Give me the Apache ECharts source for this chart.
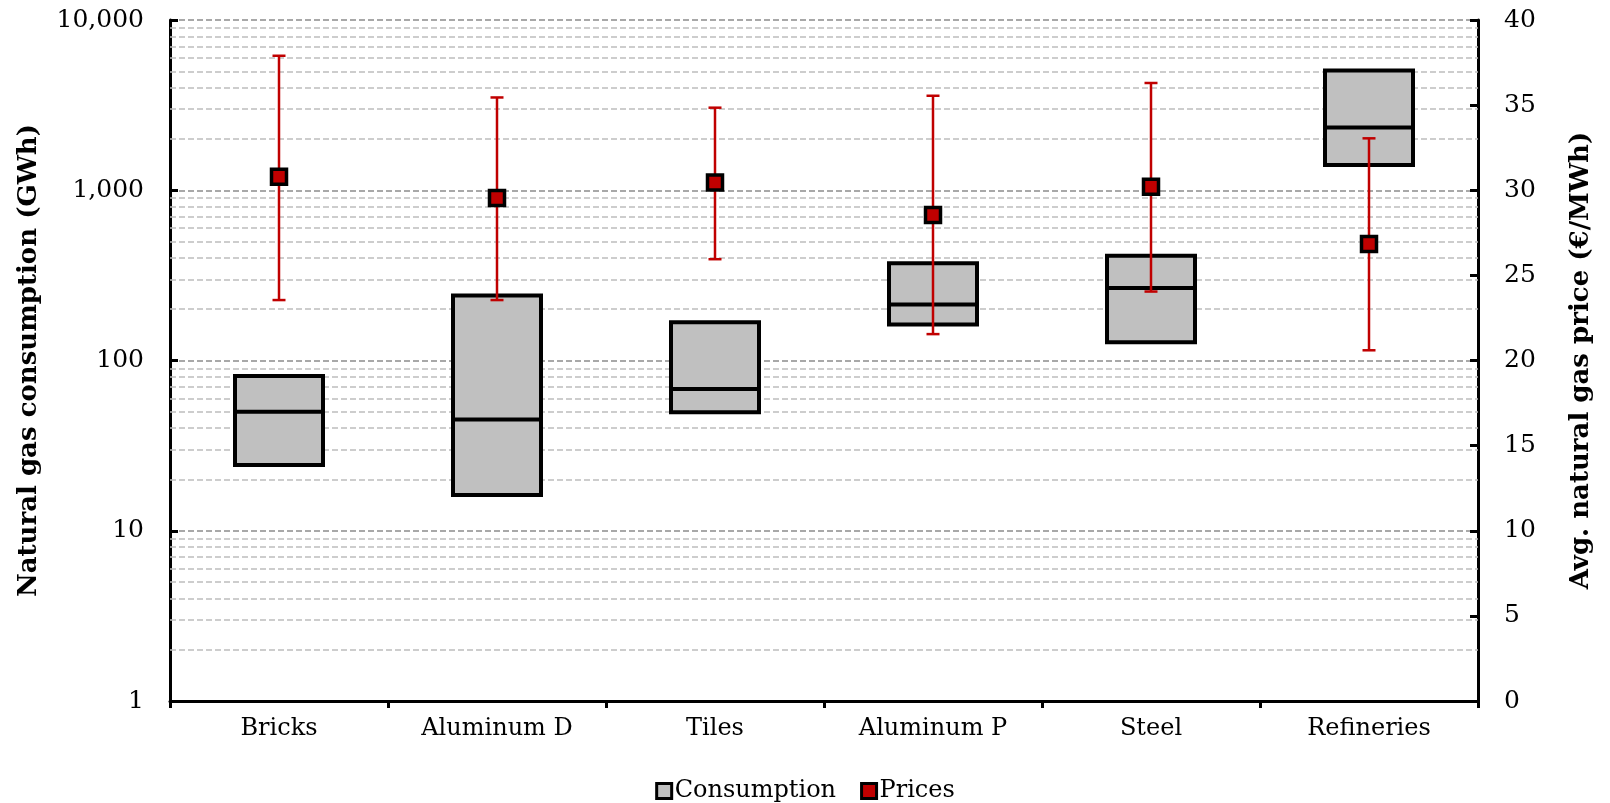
<!DOCTYPE html>
<html>
<head>
<meta charset="utf-8">
<script src="https://cdn.jsdelivr.net/npm/echarts@6/dist/echarts.min.js"></script>
<style>html,body{margin:0;padding:0;background:#fff;}#c{width:1610px;height:803px;}</style>
</head>
<body>
<div id="c"></div>
<script>
// ---- data ----
const categories = ['Bricks', 'Aluminum D', 'Tiles', 'Aluminum P', 'Steel', 'Refineries'];
const boxLow    = [24.3, 16.2, 49.6, 163, 128, 1405];
const boxMedian = [50, 45, 68, 213, 267, 2340];
const boxHigh   = [81, 241, 168, 372, 412, 5050];
const priceMean = [30.8, 29.55, 30.45, 28.55, 30.2, 26.85];
const priceLow  = [23.55, 23.55, 25.95, 21.55, 24.05, 20.6];
const priceHigh = [37.9, 35.45, 34.85, 35.55, 36.3, 33.05];
const leftTicks = [1, 10, 100, 1000, 10000];
const rightTicks = [0, 5, 10, 15, 20, 25, 30, 35, 40];

const FONT = 'DejaVu Serif';
const RED = '#c00000';
const GREY = '#c0c0c0';

// minor gridline values (2..9 within each decade)
const minorGrid = [];
for (let d = 1; d < 10000; d *= 10) for (let k = 2; k <= 9; k++) minorGrid.push(d * k);

const chart = echarts.init(document.getElementById('c'));
chart.setOption({
  animation: false,
  backgroundColor: '#fff',
  textStyle: { fontFamily: FONT, color: '#000' },
  grid: { left: 170, right: 132, top: 20, bottom: 102, containLabel: false },
  legend: {
    top: 774, left: 'center',
    itemWidth: 15, itemHeight: 15, itemGap: 24,
    textStyle: { fontFamily: FONT, fontSize: 24, color: '#000', padding: [0, 0, 0, -2] },
    data: [
      { name: 'Consumption', icon: 'rect', itemStyle: { color: GREY, borderColor: '#000', borderWidth: 3 } },
      { name: 'Prices', icon: 'rect', itemStyle: { color: RED, borderColor: '#000', borderWidth: 3 } }
    ]
  },
  xAxis: {
    type: 'category', data: categories, boundaryGap: true,
    axisLine: { lineStyle: { color: '#000', width: 3 } },
    axisTick: { show: true, inside: false, length: 7, lineStyle: { color: '#000', width: 3 } },
    axisLabel: { fontFamily: FONT, fontSize: 24, color: '#000', margin: 16 },
    splitLine: { show: false }
  },
  yAxis: [
    {
      type: 'log', logBase: 10, min: leftTicks[0], max: leftTicks[leftTicks.length - 1],
      name: 'Natural gas consumption (GWh)', nameLocation: 'middle', nameRotate: 90, nameGap: 128,
      nameTextStyle: { fontFamily: FONT, fontSize: 26, fontWeight: 'bold', color: '#000' },
      axisLine: { show: true, lineStyle: { color: '#000', width: 3 } },
      axisTick: { show: true, inside: true, length: 8, lineStyle: { color: '#000', width: 3 } },
      axisLabel: { fontFamily: FONT, fontSize: 25, color: '#000', margin: 26,
        formatter: v => Number(v).toLocaleString('en-US') },
      splitLine: { show: true, lineStyle: { color: '#8c8c8c', type: [6, 3], width: 1.5 } }
    },
    {
      type: 'value', min: rightTicks[0], max: rightTicks[rightTicks.length - 1], interval: 5,
      position: 'right',
      name: 'Avg. natural gas price (€/MWh)', nameLocation: 'middle', nameRotate: 90, nameGap: 90,
      nameTextStyle: { fontFamily: FONT, fontSize: 26, fontWeight: 'bold', color: '#000' },
      axisLine: { show: true, lineStyle: { color: '#000', width: 3 } },
      axisTick: { show: true, inside: true, length: 8, lineStyle: { color: '#000', width: 3 } },
      axisLabel: { fontFamily: FONT, fontSize: 25, color: '#000', margin: 26 },
      splitLine: { show: false }
    }
  ],
  series: [
    {
      type: 'line', yAxisIndex: 0, data: [], silent: true, z: 1,
      markLine: {
        silent: true, symbol: ['none', 'none'], animation: false, z: 1,
        label: { show: false },
        lineStyle: { color: '#bdbdbd', type: [6, 3], width: 1.5 },
        data: minorGrid.map(v => ({ yAxis: v }))
      }
    },
    {
      name: 'Consumption', type: 'boxplot', yAxisIndex: 0, z: 3,
      boxWidth: [88, 88],
      itemStyle: { color: GREY, borderColor: '#000', borderWidth: 4 },
      emphasis: { disabled: true },
      data: categories.map((c, i) => [boxLow[i], boxLow[i], boxMedian[i], boxHigh[i], boxHigh[i]])
    },
    {
      name: 'PriceRange', type: 'custom', yAxisIndex: 1, z: 4, silent: true,
      encode: { x: 0, y: [1, 2] },
      renderItem: function (params, api) {
        const x = api.value(0);
        const lo = api.coord([x, api.value(1)]);
        const hi = api.coord([x, api.value(2)]);
        const hw = 6.5;
        const st = { stroke: RED, lineWidth: 2.5 };
        return { type: 'group', children: [
          { type: 'line', shape: { x1: lo[0], y1: lo[1], x2: hi[0], y2: hi[1] }, style: st },
          { type: 'line', shape: { x1: lo[0] - hw, y1: lo[1], x2: lo[0] + hw, y2: lo[1] }, style: st },
          { type: 'line', shape: { x1: hi[0] - hw, y1: hi[1], x2: hi[0] + hw, y2: hi[1] }, style: st }
        ] };
      },
      data: categories.map((c, i) => [i, priceLow[i], priceHigh[i]])
    },
    {
      name: 'Prices', type: 'scatter', yAxisIndex: 1, z: 5,
      symbol: 'rect', symbolSize: 15,
      itemStyle: { color: RED, borderColor: '#000', borderWidth: 3.5, opacity: 1 },
      emphasis: { disabled: true },
      data: priceMean.map((v, i) => [i, v])
    }
  ]
});
</script>
</body>
</html>
